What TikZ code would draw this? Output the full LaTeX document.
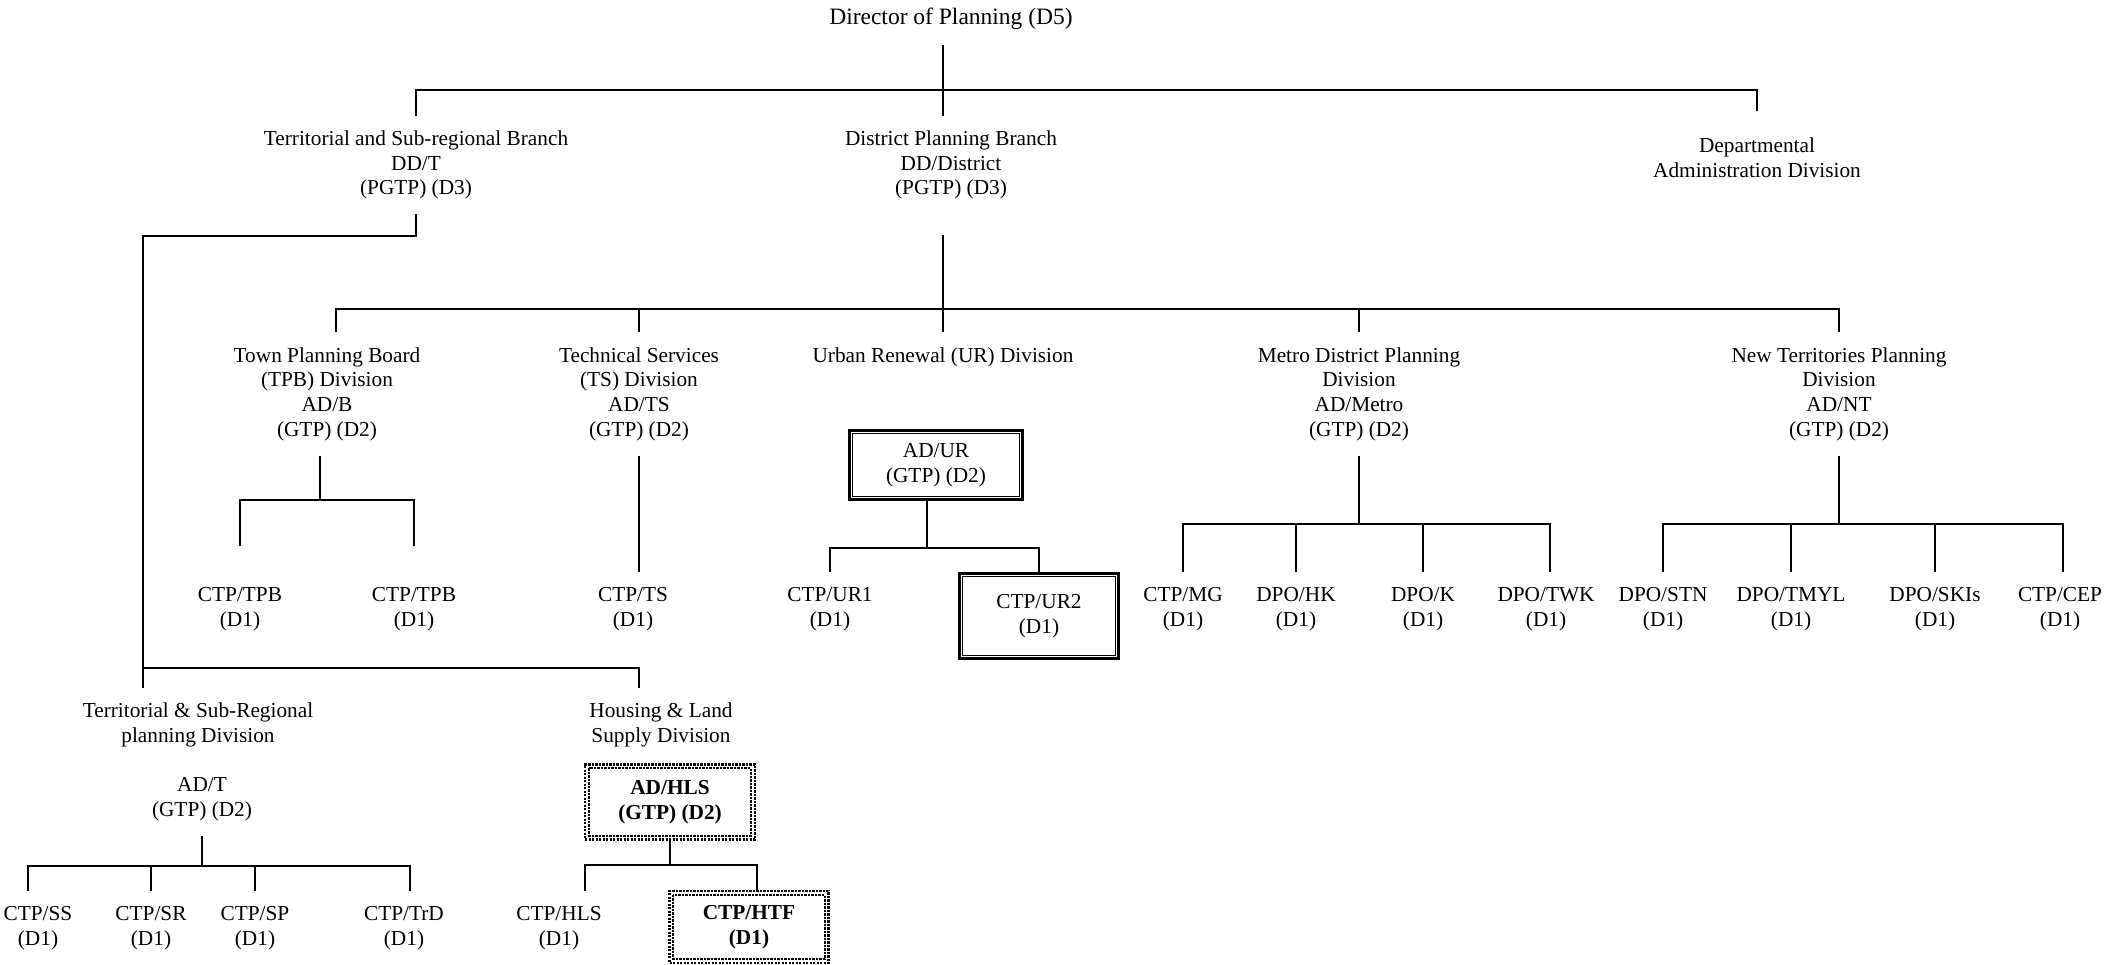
\documentclass[tikz,border=0pt]{standalone}
\usepackage{fontspec}
\setmainfont{Liberation Serif}
\tikzset{
  lbl/.style={align=center,inner xsep=2pt,inner ysep=14pt,font=\fontsize{21.3}{24.7}\selectfont},
  dbox/.style={lbl,draw,line width=2.6pt,inner ysep=2pt},
  dotbox/.style={lbl,draw,line width=2.2pt,dash pattern=on 2.4pt off 1.1pt,inner ysep=2pt,font=\fontsize{21.3}{24.7}\selectfont\bfseries}
}
\begin{document}
\begin{tikzpicture}[x=1pt,y=-1pt,line width=1.7pt]
\useasboundingbox (0,0) rectangle (2123,965);

\node[lbl,font=\fontsize{23.5}{27}\selectfont] (dir) at (951,19) {Director of Planning (D5)};
\node[lbl] (tsb) at (416,165) {Territorial and Sub-regional Branch\\DD/T\\(PGTP) (D3)};
\node[lbl] (dpb) at (951,165) {District Planning Branch\\DD/District\\(PGTP) (D3)};
\node[lbl,inner ysep=26pt] (dad) at (1757,158) {Departmental\\Administration Division};

\node[lbl] (tpb) at (327,394) {Town Planning Board\\(TPB) Division\\AD/B\\(GTP) (D2)};
\node[lbl] (tsd) at (639,394) {Technical Services\\(TS) Division\\AD/TS\\(GTP) (D2)};
\node[lbl] (urd) at (943,357) {Urban Renewal (UR) Division};
\node[lbl] (mdp) at (1359,394) {Metro District Planning\\Division\\AD/Metro\\(GTP) (D2)};
\node[lbl] (ntp) at (1839,394) {New Territories Planning\\Division\\AD/NT\\(GTP) (D2)};

\node[dbox,minimum width=173pt,minimum height=69pt] (adur) at (936,465) {AD/UR\\(GTP) (D2)};
\node[lbl] (cur1) at (830,609) {CTP/UR1\\(D1)};
\node[dbox,minimum width=159pt,minimum height=85pt] (cur2) at (1039,616) {CTP/UR2\\(D1)};

\node[lbl] (ctpb1) at (240,609) {CTP/TPB\\(D1)};
\node[lbl] (ctpb2) at (414,609) {CTP/TPB\\(D1)};
\node[lbl] (cts) at (633,609) {CTP/TS\\(D1)};

\node[lbl] (cmg) at (1183,609) {CTP/MG\\(D1)};
\node[lbl] (dhk) at (1296,609) {DPO/HK\\(D1)};
\node[lbl] (dk) at (1423,609) {DPO/K\\(D1)};
\node[lbl] (dtwk) at (1546,609) {DPO/TWK\\(D1)};

\node[lbl] (dstn) at (1663,609) {DPO/STN\\(D1)};
\node[lbl] (dtmyl) at (1791,609) {DPO/TMYL\\(D1)};
\node[lbl] (dski) at (1935,609) {DPO/SKIs\\(D1)};
\node[lbl] (ccep) at (2060,609) {CTP/CEP\\(D1)};

\node[lbl] (tsr) at (198,725) {Territorial \& Sub-Regional\\planning Division};
\node[lbl] (hls) at (661,725) {Housing \& Land\\Supply Division};
\node[lbl] (adt) at (202,799) {AD/T\\(GTP) (D2)};
\node[dotbox,minimum width=170pt,minimum height=75pt] (adhls) at (670,802) {AD/HLS\\(GTP) (D2)};

\node[lbl] (css) at (38,928) {CTP/SS\\(D1)};
\node[lbl] (csr) at (151,928) {CTP/SR\\(D1)};
\node[lbl] (csp) at (255,928) {CTP/SP\\(D1)};
\node[lbl] (ctrd) at (404,928) {CTP/TrD\\(D1)};
\node[lbl] (chls) at (559,928) {CTP/HLS\\(D1)};
\node[dotbox,minimum width=159pt,minimum height=72pt] (chtf) at (749,927) {CTP/HTF\\(D1)};

\coordinate (topbus) at (943,90);
\draw (dir.south -| topbus) -- (dpb.north -| topbus);
\draw (tsb.north) |- (topbus) -| (dad.north);

\coordinate (tbus) at (143,236);
\coordinate (lbus) at (143,668);
\coordinate (hbus) at (639,668);
\draw (tsb.south) |- (tbus) -- (lbus) -- (hbus) -- (hbus |- hls.north);
\draw (lbus) -- (lbus |- tsr.north);

\coordinate (dbus) at (943,309);
\draw (dpb.south -| dbus) ++(0,21) -- (dbus);
\draw ([xshift=9pt]tpb.north) |- (dbus) -| (ntp.north);
\foreach \n in {tsd,urd,mdp}
  \draw (\n.north) -- (\n.north |- dbus);

\coordinate (tpbbus) at (320,500);
\draw ([xshift=-7pt]tpb.south) -- (tpbbus);
\draw ([yshift=26pt]ctpb1.north) |- (tpbbus) -| ([yshift=26pt]ctpb2.north);
\draw (tsd.south) -- (tsd.south |- cts.north);

\coordinate (urbus) at (927,548);
\draw (adur.south -| urbus) -- (urbus);
\draw (cur1.north) |- (urbus) -| (cur2.north);

\coordinate (mbus) at (1359,524);
\draw (mdp.south) -- (mbus);
\draw (cmg.north) |- (mbus) -| ([xshift=4pt]dtwk.north);
\foreach \n in {dhk,dk}
  \draw (\n.north) -- (\n.north |- mbus);

\coordinate (nbus) at (1839,524);
\draw (ntp.south) -- (nbus);
\draw (dstn.north) |- (nbus) -| ([xshift=3pt]ccep.north);
\foreach \n in {dtmyl,dski}
  \draw (\n.north) -- (\n.north |- nbus);

\coordinate (tbus2) at (202,866);
\draw (adt.south) -- (tbus2);
\draw ([xshift=-10pt]css.north) |- (tbus2) -| ([xshift=6pt]ctrd.north);
\foreach \n in {csr,csp}
  \draw (\n.north) -- (\n.north |- tbus2);

\coordinate (hbus2) at (670,865);
\draw (adhls.south) -- (hbus2);
\draw ([xshift=26pt]chls.north) |- (hbus2) -| ([xshift=8pt]chtf.north);

\foreach \bx in {adur,cur2}
  \draw[line width=1.1pt] ([xshift=4.5pt,yshift=-4.5pt]\bx.north west) rectangle ([xshift=-4.5pt,yshift=4.5pt]\bx.south east);
\foreach \bx in {adhls,chtf}
  \draw[line width=2pt,dash pattern=on 2.4pt off 1.1pt] ([xshift=5pt,yshift=-5pt]\bx.north west) rectangle ([xshift=-5pt,yshift=5pt]\bx.south east);
\end{tikzpicture}
\end{document}
